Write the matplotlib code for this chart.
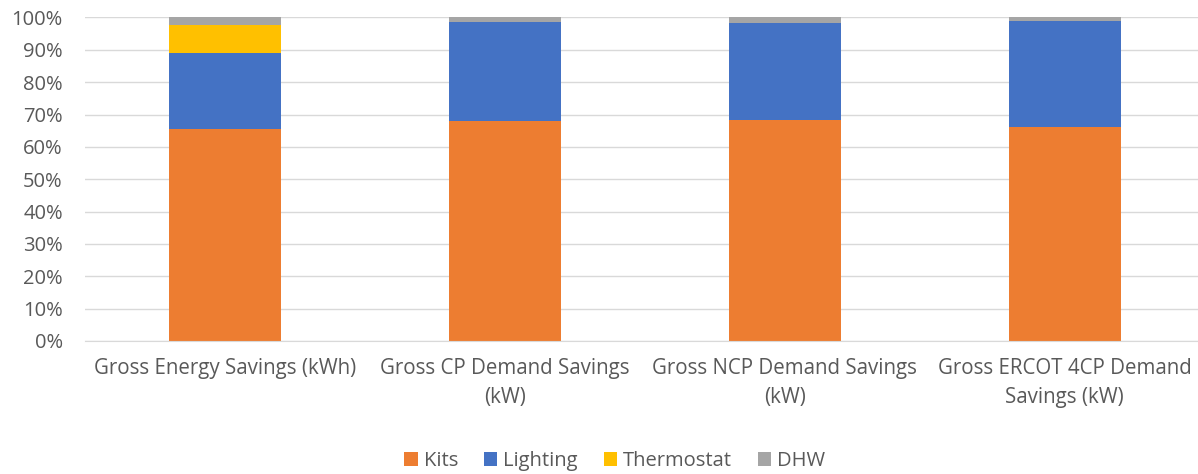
import matplotlib
matplotlib.use("Agg")
import matplotlib.pyplot as plt
import numpy as np

categories = ["Gross Energy Savings (kWh)", "Gross CP Demand Savings\n(kW)",
              "Gross NCP Demand Savings\n(kW)", "Gross ERCOT 4CP Demand\nSavings (kW)"]
kits = [65.5, 68.1, 68.4, 66.2]
lighting = [23.4, 30.4, 29.8, 32.7]
thermostat = [8.8, 0.0, 0.0, 0.0]
dhw = [2.3, 1.5, 1.8, 1.1]
series = [("Kits", kits, "#ED7D31"), ("Lighting", lighting, "#4472C4"),
          ("Thermostat", thermostat, "#FFC000"), ("DHW", dhw, "#A5A5A5")]
yticks = list(range(0, 101, 10))

plt.rcParams['font.family'] = ['Open Sans', 'DejaVu Sans']
txt = "#595959"

fig = plt.figure(figsize=(11.98, 4.74), dpi=100)
ax = fig.add_axes([85/1198, 133/474, 1 - 85/1198, (341-17.5)/474])
x = np.arange(len(categories))
bottom = np.zeros(len(categories))
handles = []
for name, vals, col in series:
    v = np.array(vals, dtype=float)
    b = ax.bar(x, v, 0.4, bottom=bottom, color=col, label=name, zorder=3)
    handles.append(b)
    bottom += v

ax.set_xlim(-0.5, 3.5 - 6.5/280)
ax.set_ylim(0, 100)
ax.set_yticks(yticks)
ax.set_yticklabels([f"{t}%" for t in yticks], color=txt, fontsize=14.5)
ax.set_xticks(x)
ax.set_xticklabels(categories, color=txt, fontsize=14.8, linespacing=1.5)
ax.tick_params(axis='both', length=0)
ax.tick_params(axis='x', pad=12)
ax.tick_params(axis='y', pad=16)
ax.grid(axis='y', color="#D9D9D9", linewidth=1, zorder=0)
for s in ["top", "right", "left"]:
    ax.spines[s].set_visible(False)
ax.spines["bottom"].set_color("#D9D9D9")
ax.spines["bottom"].set_zorder(4)

leg = fig.legend(handles=handles, loc="center", bbox_to_anchor=(615/1198, 1 - 461/474),
                 ncol=4, frameon=False, fontsize=14.5, handlelength=0.65, handleheight=0.65,
                 handletextpad=0.3, columnspacing=1.3)
for t in leg.get_texts():
    t.set_color(txt)

fig.savefig("out.png", dpi=100)
